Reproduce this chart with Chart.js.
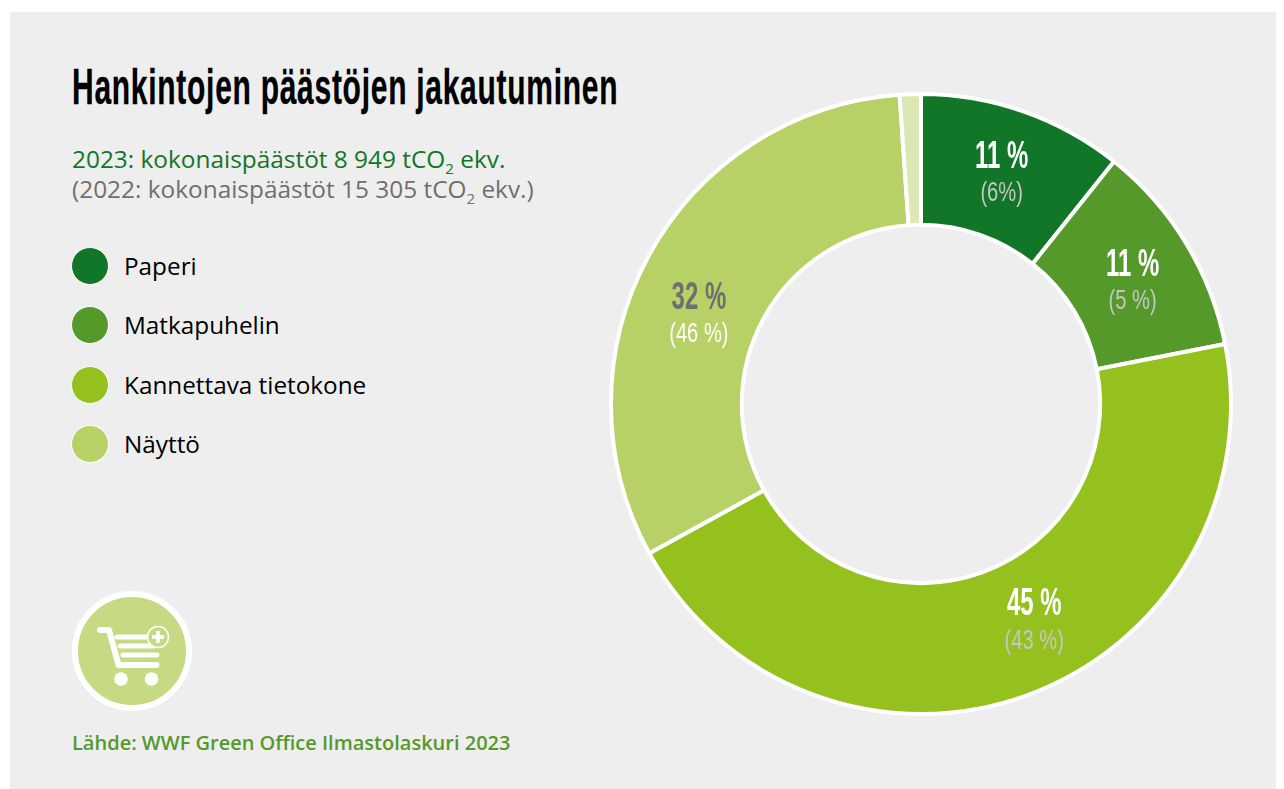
<!DOCTYPE html>
<html lang="fi">
<head>
<meta charset="utf-8">
<title>Hankintojen päästöjen jakautuminen</title>
<script src="https://cdn.jsdelivr.net/npm/chart.js@4"></script>
<style>
	html, body { margin: 0; padding: 0; background: #ffffff; }
	body { width: 1284px; height: 789px; overflow: hidden; position: relative; font-family: "Open Sans", sans-serif; }
	#panel { position: absolute; left: 10px; top: 12px; width: 1266px; height: 777px; background: #eeeeee; }
	#chart-box { position: absolute; left: 591px; top: 74px; width: 660px; height: 660px; }
	h1 { position: absolute; left: 72px; top: 58px; margin: 0; font: bold 50px "Liberation Sans", sans-serif; letter-spacing: 1.2px; color: #000; white-space: nowrap; transform-origin: 0 0; transform: scaleX(0.6); -webkit-text-stroke: 0.3px #000; }
	.sub { position: absolute; left: 72px; font-size: 24.4px; line-height: 30px; white-space: nowrap; }
	.sub sub { font-size: 15px; line-height: 0; }
	#legend { position: absolute; left: 71px; top: 246px; margin: 0; padding: 0; list-style: none; }
	#legend li { height: 59.3px; display: flex; font-size: 24.3px; color: #000; }
	#legend i { flex: none; width: 36px; height: 36px; border-radius: 50%; border: 1.5px solid #fff; margin: 1px 15px 0 0; }
	#legend span { line-height: 40px; }
	#icon { position: absolute; left: 72px; top: 591px; }
	#source { position: absolute; left: 72px; top: 729px; font-size: 20px; font-weight: 600; color: #55992b; white-space: nowrap; }
</style>
</head>
<body>
<div id="panel"></div>
<h1>Hankintojen päästöjen jakautuminen</h1>
<div class="sub" style="top:144px;color:#127629">2023: kokonaispäästöt 8 949 tCO<sub>2</sub> ekv.</div>
<div class="sub" style="top:174px;color:#706f6f">(2022: kokonaispäästöt 15 305 tCO<sub>2</sub> ekv.)</div>
<ul id="legend"></ul>
<svg id="icon" width="120" height="120" viewBox="0 0 120 120">
	<circle cx="60" cy="60" r="57" fill="#c6da84" stroke="#fff" stroke-width="6"/>
	<path d="M28 39h9l9.500 35h38" fill="none" stroke="#fff" stroke-width="6" stroke-linecap="round" stroke-linejoin="round"/>
	<path d="M45 46h33M48 55h34M51 64h34" fill="none" stroke="#fff" stroke-width="5" stroke-linecap="round"/>
	<circle cx="49" cy="88" r="6.800" fill="#fff"/>
	<circle cx="79.500" cy="88" r="6.800" fill="#fff"/>
	<circle cx="86" cy="46" r="10.500" fill="#c6da84" stroke="#fff" stroke-width="1.500"/>
	<path d="M86 40v12M80 46h12" fill="none" stroke="#fff" stroke-width="3.500"/>
</svg>
<div id="source">Lähde: WWF Green Office Ilmastolaskuri 2023</div>
<div id="chart-box"><canvas id="share-chart"></canvas></div>
<script>
// Purchases by category, share of emissions in 2023 and 2022
const categories = ["Paperi", "Matkapuhelin", "Kannettava tietokone", "Näyttö", "Muu"];
const shares2023 = [10.7, 11.2, 45.1, 31.9, 1.1];
const labels2023 = ["11 %", "11 %", "45 %", "32 %", ""];
const labels2022 = ["(6%)", "(5 %)", "(43 %)", "(46 %)", ""];
const sliceColors = ["#127629", "#55992b", "#95c11f", "#b7d166", "#dbe8b3"];
const labelColors = ["#ffffff", "#ffffff", "#ffffff", "#706f6f", ""];
const priorColors = ["#c6c6c6", "#c6c6c6", "#c6c6c6", "#ffffff", ""];
const legendCount = 4;

// Legend is plain HTML, the fifth slice has no entry in the original
const legendList = document.getElementById("legend");
categories.slice(0, legendCount).forEach((name, i) => {
	const item = document.createElement("li");
	item.innerHTML = `<i style="background:${sliceColors[i]}"></i><span>${name}</span>`;
	legendList.appendChild(item);
});

// Some labels sit a little off the middle of their slices
const labelTurn = [0, 1.2, -7.6, -6.6, 0];
const labelInset = [0, 0, 0, 5, 0];

// Draw one condensed line of text, canvas has no narrow font installed here
function drawNarrow(ctx, text, x, y, font, color, squeeze) {
	ctx.save();
	ctx.translate(x, y);
	ctx.scale(squeeze, 1);
	ctx.textAlign = "center";
	ctx.textBaseline = "middle";
	ctx.font = font;
	ctx.fillStyle = color;
	ctx.fillText(text, 0, 0);
	ctx.restore();
}

const sliceLabels = {
	id: "sliceLabels",
	afterDatasetsDraw(chart) {
		const ctx = chart.ctx;
		chart.getDatasetMeta(0).data.forEach((arc, i) => {
			if (!labels2023[i]) return;
			const p = arc.getProps(["x", "y", "startAngle", "endAngle", "innerRadius", "outerRadius"], true);
			const angle = (p.startAngle + p.endAngle) / 2 + labelTurn[i] * Math.PI / 180;
			const r = (p.innerRadius + p.outerRadius) / 2 - labelInset[i];
			const x = p.x + Math.cos(angle) * r;
			const y = p.y + Math.sin(angle) * r;
			drawNarrow(ctx, labels2023[i], x, y - 16, 'bold 38px "Liberation Sans"', labelColors[i], 0.63);
			drawNarrow(ctx, labels2022[i], x, y + 20, '28px "Liberation Sans"', priorColors[i], 0.72);
		});
	},
};

new Chart(document.getElementById("share-chart"), {
	type: "doughnut",
	data: {
		labels: categories,
		datasets: [{
			data: shares2023,
			backgroundColor: sliceColors,
			borderColor: "#ffffff",
			borderWidth: 4,
			borderAlign: "center",
		}],
	},
	options: {
		responsive: true,
		maintainAspectRatio: false,
		animation: false,
		cutout: "57.8%",
		layout: { padding: 18 },
		plugins: { legend: { display: false }, tooltip: { enabled: false } },
	},
	plugins: [sliceLabels],
});
</script>
</body>
</html>
